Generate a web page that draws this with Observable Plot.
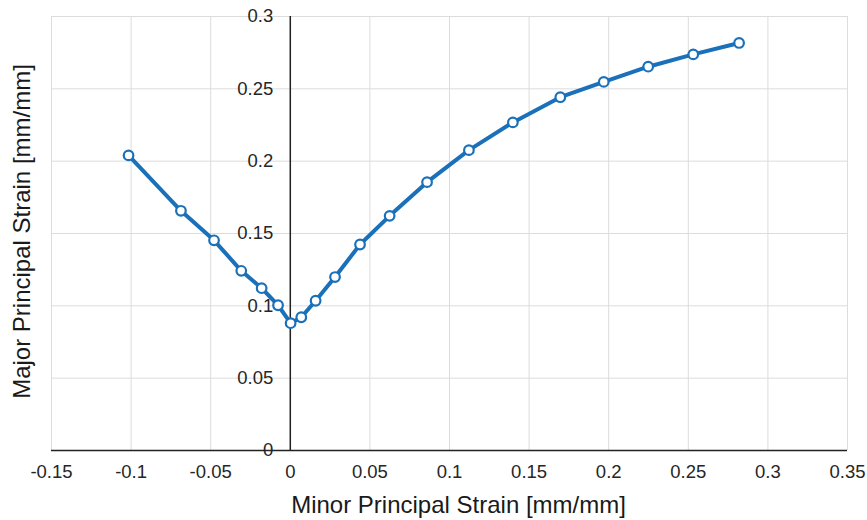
<!DOCTYPE html>
<html>
<head>
<meta charset="utf-8">
<script src="https://cdn.jsdelivr.net/npm/d3@7"></script>
<script src="https://cdn.jsdelivr.net/npm/@observablehq/plot@0.6"></script>
<style>
  html, body { margin: 0; padding: 0; background: #fff; }
  #chart svg { display: block; }
</style>
</head>
<body>
<div id="chart"></div>
<script>
const minorStrain = [-0.1016, -0.0687, -0.0479, -0.0308, -0.0180, -0.0077, 0.0002, 0.0069, 0.0159, 0.0281, 0.0438, 0.0624, 0.0859, 0.1122, 0.1398, 0.1696, 0.1969, 0.2248, 0.2531, 0.2819];
const majorStrain = [0.2040, 0.1657, 0.1453, 0.1242, 0.1122, 0.1004, 0.0880, 0.0921, 0.1035, 0.1199, 0.1424, 0.1622, 0.1855, 0.2076, 0.2268, 0.2442, 0.2548, 0.2653, 0.2738, 0.2817];
const xTicks = [-0.15, -0.1, -0.05, 0, 0.05, 0.1, 0.15, 0.2, 0.25, 0.3, 0.35];
const yTicks = [0, 0.05, 0.1, 0.15, 0.2, 0.25, 0.3];
const xTitle = "Minor Principal Strain [mm/mm]";
const yTitle = "Major Principal Strain [mm/mm]";

const data = minorStrain.map((x, i) => ({x, y: majorStrain[i]}));
const fmt = d => String(Math.round(d * 100) / 100);
const blue = "#1a70b9";
const textColor = "#262626";

const chart = Plot.plot({
  width: 867,
  height: 520,
  marginLeft: 51,
  marginRight: 20,
  marginTop: 16,
  marginBottom: 70,
  style: {fontFamily: "'Liberation Sans', Arial, sans-serif", fontSize: "18px", color: textColor, background: "#fff", overflow: "visible"},
  x: {domain: [-0.15, 0.35], ticks: xTicks},
  y: {domain: [0, 0.3], ticks: yTicks, axis: null},
  marks: [
    Plot.gridX(xTicks, {stroke: "#dcdcdc", strokeOpacity: 1, strokeWidth: 1}),
    Plot.gridY(yTicks, {stroke: "#dcdcdc", strokeOpacity: 1, strokeWidth: 1}),
    Plot.ruleY([0], {stroke: "#222", strokeWidth: 1.5}),
    Plot.ruleX([0], {y1: 0, y2: 0.3, stroke: "#222", strokeWidth: 1.5}),
    Plot.axisX(xTicks, {tickSize: 0, tickPadding: 14, tickFormat: fmt, label: null, fontSize: 18.5, fill: textColor}),
    Plot.text(yTicks, {x: 0, y: d => d, text: fmt, dx: -17, textAnchor: "end", fontSize: 18.5, fill: textColor}),
    Plot.line(data, {x: "x", y: "y", stroke: blue, strokeWidth: 4, strokeLinejoin: "round"}),
    Plot.dot(data, {x: "x", y: "y", r: 4.8, fill: "white", stroke: blue, strokeWidth: 2.2}),
    Plot.text([xTitle], {frameAnchor: "bottom", text: d => d, dy: 55, dx: 9, lineAnchor: "middle", textAnchor: "middle", fontSize: 24, fill: "#1a1a1a"}),
    Plot.text([yTitle], {frameAnchor: "left", text: d => d, rotate: -90, dx: -29, dy: -2, lineAnchor: "middle", textAnchor: "middle", fontSize: 24, fill: "#1a1a1a"})
  ]
});
document.getElementById("chart").appendChild(chart);
</script>
</body>
</html>
